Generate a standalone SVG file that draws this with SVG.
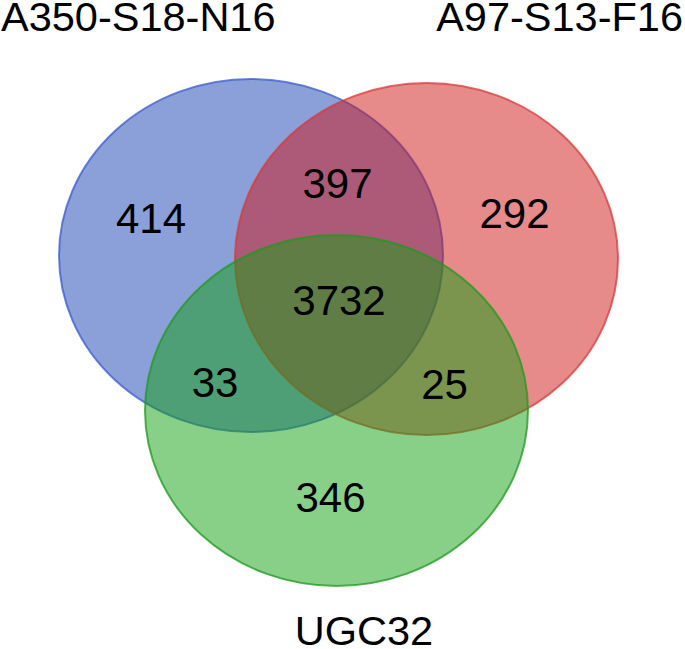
<svg xmlns="http://www.w3.org/2000/svg" width="685" height="649" viewBox="0 0 685 649">
  <style>
    .set { fill-opacity: 0.5; stroke-width: 2; stroke-opacity: 0.75; }
    .lbl { font-family: "Liberation Sans", Arial, sans-serif; font-size: 41.5px; fill: #000; }
    .num { font-family: "Liberation Sans", Arial, sans-serif; font-size: 42px; fill: #000; text-anchor: middle; }
  </style>
  <rect width="685" height="649" fill="#ffffff"/>
  <g id="set-A350">
    <ellipse class="set" cx="251" cy="255.5" rx="192" ry="176.5" fill="#173fb1" stroke="#3a5ccc"/>
  </g>
  <g id="set-A97">
    <ellipse class="set" cx="426.5" cy="259" rx="191.5" ry="176" fill="#cd1515" stroke="#d83a3a"/>
  </g>
  <g id="set-UGC32">
    <ellipse class="set" cx="336.5" cy="410.5" rx="191.5" ry="175.5" fill="#119f11" stroke="#1f9a1f"/>
  </g>
  <g id="labels">
    <text class="lbl" x="1" y="31">A350-S18-N16</text>
    <text class="lbl" x="683" y="31" text-anchor="end">A97-S13-F16</text>
    <text class="lbl" x="364" y="645" text-anchor="middle">UGC32</text>
  </g>
  <g id="counts">
    <text class="num" x="151" y="233">414</text>
    <text class="num" x="337.5" y="198">397</text>
    <text class="num" x="514.5" y="228">292</text>
    <text class="num" x="339" y="315">3732</text>
    <text class="num" x="215" y="397">33</text>
    <text class="num" x="444.5" y="399">25</text>
    <text class="num" x="330.5" y="512">346</text>
  </g>
</svg>
